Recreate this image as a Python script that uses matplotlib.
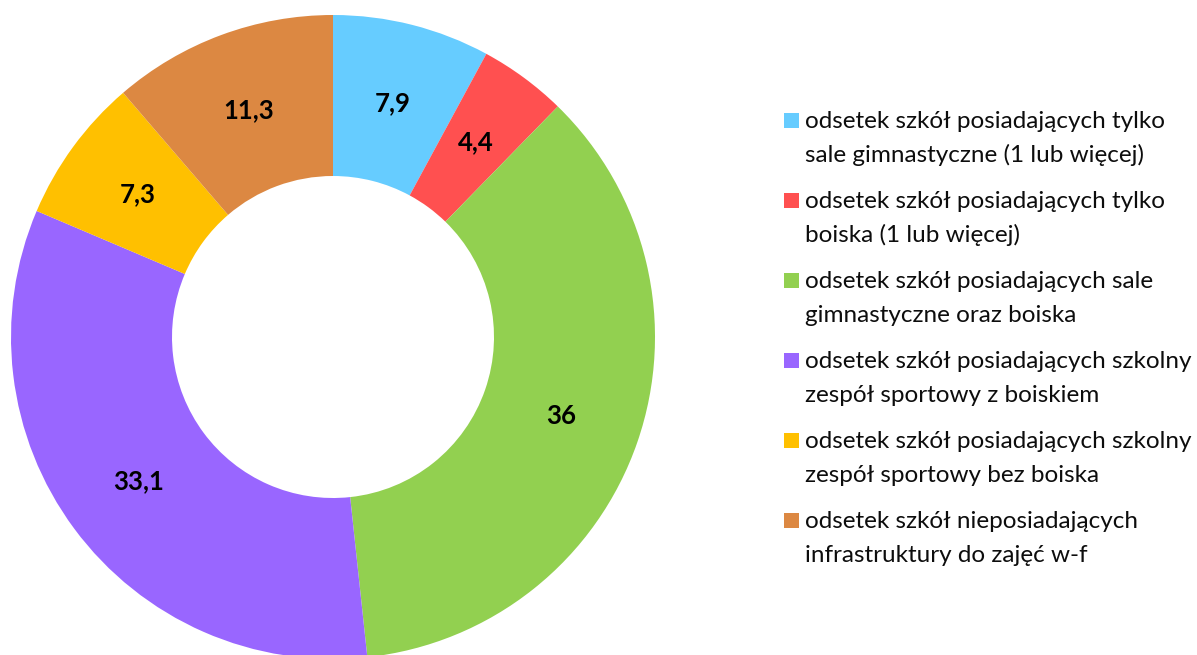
import matplotlib
matplotlib.use("Agg")
import numpy as np
import matplotlib.pyplot as plt
from matplotlib.patches import Rectangle

values = [7.9, 4.4, 36, 33.1, 7.3, 11.3]
value_labels = ["7,9", "4,4", "36", "33,1", "7,3", "11,3"]
categories = [
    "odsetek szkół posiadających tylko\nsale gimnastyczne (1 lub więcej)",
    "odsetek szkół posiadających tylko\nboiska (1 lub więcej)",
    "odsetek szkół posiadających sale\ngimnastyczne oraz boiska",
    "odsetek szkół posiadających szkolny\nzespół sportowy z boiskiem",
    "odsetek szkół posiadających szkolny\nzespół sportowy bez boiska",
    "odsetek szkół nieposiadających\ninfrastruktury do zajęć w-f",
]
colors = ["#66CCFF", "#FF5050", "#92D050", "#9966FF", "#FFC000", "#DC8842"]

W, H = 1197, 655
fig = plt.figure(figsize=(W / 100, H / 100), dpi=100)

# donut: centre (333, 337) px, outer radius 322 px
cx, cy, r = 333, 337, 322
ax = fig.add_axes([(cx - r) / W, (H - cy - r) / H, 2 * r / W, 2 * r / H])
wedges, _ = ax.pie(values, colors=colors, startangle=90, counterclock=False,
                   radius=1, wedgeprops=dict(width=0.5, linewidth=0))
ax.set_xlim(-1, 1)
ax.set_ylim(-1, 1)
ax.set_aspect("equal")
ax.axis("off")

for w, lab in zip(wedges, value_labels):
    ang = np.deg2rad((w.theta1 + w.theta2) / 2)
    ax.text(0.75 * np.cos(ang), 0.75 * np.sin(ang), lab, ha="center", va="center",
            fontsize=18.5, fontweight="bold", family="Lato", color="black")

# legend, drawn by hand so the square sits on the first line
base0, step, line_gap = 128, 80, 34
for i, (cat, col) in enumerate(zip(categories, colors)):
    yb = base0 + step * i
    fig.patches.append(Rectangle((784 / W, 1 - yb / H), 15 / W, 15 / H,
                                 transform=fig.transFigure, facecolor=col,
                                 edgecolor="none"))
    for j, line in enumerate(cat.split("\n")):
        fig.text(805 / W, 1 - (yb + j * line_gap) / H, line, ha="left",
                 va="baseline", fontsize=17.5, family="Lato", color="#0d0d0d")

fig.savefig("out.png", dpi=100)
